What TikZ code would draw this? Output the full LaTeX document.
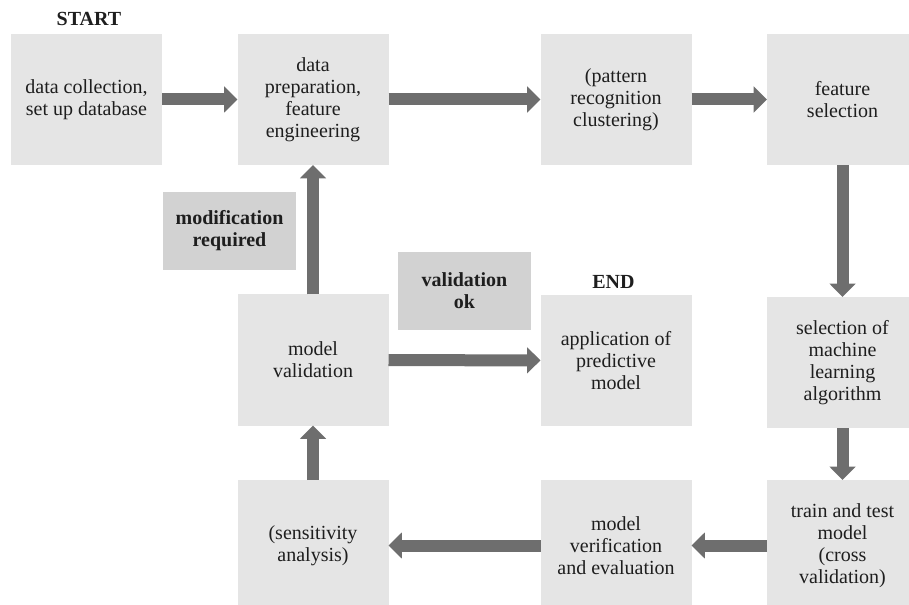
\documentclass[tikz,border=0pt]{standalone}
\usepackage{fontspec}
\setmainfont{Liberation Serif}
\usetikzlibrary{arrows.meta}

\definecolor{boxgray}{HTML}{E5E5E5}
\definecolor{notegray}{HTML}{D2D2D2}
\definecolor{arrowgray}{HTML}{6E6E6E}
\definecolor{inkgray}{HTML}{1E1E1E}

\begin{document}
\begin{tikzpicture}[x = 0.75pt, y = -0.75pt, > = {Triangle[width = 19pt, length = 10pt]}, font = \fontsize{15}{16.5}\selectfont]
    \tikzset{
      stage/.style = {fill = boxgray, minimum width = 113.25pt, minimum height = 98.25pt, align = center, inner sep = 0pt, outer sep = 0pt, text = inkgray},
      note/.style = {fill = notegray, minimum width = 100pt, minimum height = 58.5pt, align = center, inner sep = 0pt, text = inkgray, font = \fontsize{15}{16.5}\selectfont\bfseries},
      marker/.style = {text = inkgray, font = \fontsize{15}{16.5}\selectfont\bfseries},
      flow/.style = {->, draw = arrowgray, line width = 9pt},
    }

    \useasboundingbox (0, 0) rectangle (909, 605);

    \node [stage] (collect) at (86.5, 99.5) {data collection,\\set up database};
    \node [stage] (prep) at (313, 99.5) {data\\preparation,\\feature\\engineering};
    \node [stage] (cluster) at (616, 99.5) {(pattern\\recognition\\clustering)};
    \node [stage] (featsel) at (842.5, 99.5) {feature\\selection};

    \node [stage] (valid) at (313, 360) {model\\validation};
    \node [stage] (apply) at (616, 360.5) {application of\\predictive\\model};
    \node [stage] (algsel) at (842.5, 362.5) {selection of\\machine\\learning\\algorithm};

    \node [stage] (sens) at (313, 545.5) {(sensitivity\\analysis)};
    \node [stage] (verif) at (616, 545.5) {model\\verification\\and evaluation};
    \node [stage] (train) at (842.5, 545.5) {train and test\\model\\(cross\\validation)};

    \node [note] (modif) at (229.5, 231) {modification\\required};
    \node [note] (valok) at (464.5, 291) {validation\\ok};

    \node [marker] (start) at (89, 19) {START};
    \node [marker] (end) at (613.5, 282) {END};

    \draw [flow] (collect) -- (prep);
    \draw [flow] (prep) -- (cluster);
    \draw [flow] (cluster) -- (featsel);
    \draw [flow] (featsel) -- (algsel);
    \draw [flow] (algsel) -- (train);
    \draw [flow] (train) -- (verif);
    \draw [flow] (verif) -- (sens);
    \draw [flow] (sens) -- (valid);
    \draw [flow] (valid) -- (prep);
    \draw [flow] (valid) -- (apply);
\end{tikzpicture}
\end{document}
